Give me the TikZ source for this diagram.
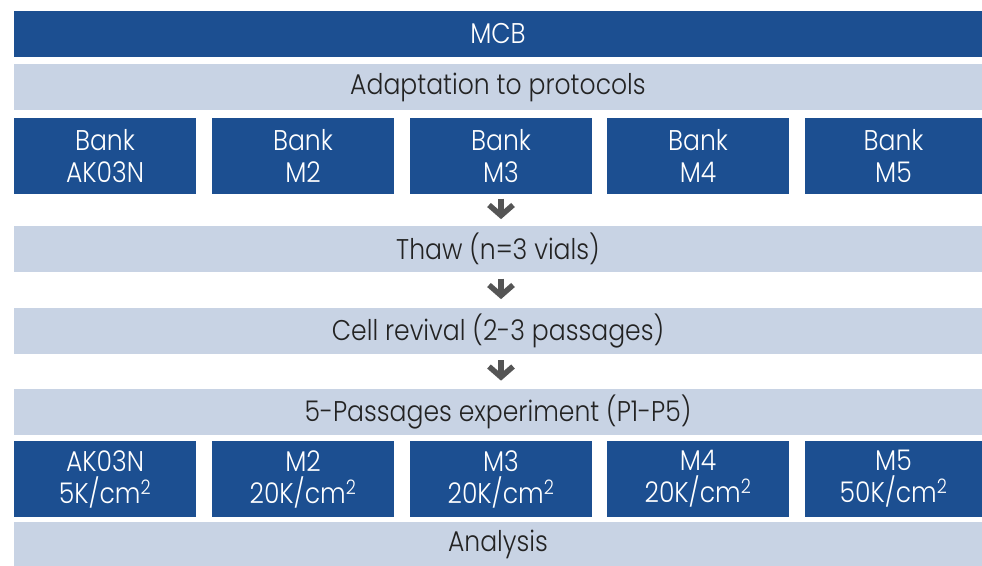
\documentclass[tikz,border=0pt]{standalone}
\usepackage{fontspec}
\setmainfont[FakeStretch=0.88,UprightFont=* Light]{Poppins}
\usetikzlibrary{calc}
\definecolor{dkblue}{RGB}{28,79,145}
\definecolor{ltblue}{RGB}{200,211,228}
\definecolor{arrgray}{RGB}{85,85,85}
\definecolor{txtdark}{RGB}{35,35,35}
\begin{document}
\begin{tikzpicture}[x=1pt,y=-1pt,
  box/.style={anchor=north west, inner sep=0pt, outer sep=0pt, minimum height=#1, align=center,
    font=\fontsize{28.5}{32}\selectfont},
  darkbox/.style={box=#1, fill=dkblue, text=white},
  lightbox/.style={box=#1, fill=ltblue, text=txtdark},
  downarrow/.style={draw=arrgray, line width=5.5pt, miter limit=10}]
\useasboundingbox (0,0) rectangle (982,565);
\node[darkbox=46pt, minimum width=968pt] (mcb) at (14,11) {MCB};
\node[lightbox=46pt, minimum width=968pt] (adapt) at (14,64) {Adaptation to protocols};
\node[darkbox=76pt, minimum width=182pt] (b1) at (14,118) {Bank\\AK03N};
\node[darkbox=76pt, minimum width=182pt] (b2) at (212,118) {Bank\\M2};
\node[darkbox=76pt, minimum width=182pt] (b3) at (410,118) {Bank\\M3};
\node[darkbox=76pt, minimum width=182pt] (b4) at (607,118) {Bank\\M4};
\node[darkbox=76pt, minimum width=177pt] (b5) at (805,118) {Bank\\M5};
\node[lightbox=46pt, minimum width=968pt] (thaw) at (14,226) {Thaw (n=3 vials)};
\node[lightbox=46pt, minimum width=968pt] (revival) at (14,308) {Cell revival (2-3 passages)};
\node[lightbox=46pt, minimum width=968pt] (exp) at (14,389) {5-Passages experiment (P1-P5)};
\node[darkbox=76pt, minimum width=182pt] (r1) at (14,441) {AK03N\\5K/cm\textsuperscript{2}};
\node[darkbox=76pt, minimum width=182pt] (r2) at (212,441) {M2\\20K/cm\textsuperscript{2}};
\node[darkbox=76pt, minimum width=182pt] (r3) at (410,441) {M3\\20K/cm\textsuperscript{2}};
\node[darkbox=76pt, minimum width=182pt] (r4) at (607,441) {M4\\20K/cm\textsuperscript{2}};
\node[darkbox=76pt, minimum width=177pt] (r5) at (805,441) {M5\\50K/cm\textsuperscript{2}};
\node[lightbox=44pt, minimum width=968pt] (analysis) at (14,522) {Analysis};
% arrows
\foreach \a/\b in {b3/thaw, thaw/revival, revival/exp}{
  \coordinate (mid) at ($(\a.south)!0.5!(\b.south |- \b.north)$);
  \coordinate (mid) at ([yshift=0.5pt]mid -| b3.south);
  \draw[downarrow] ($(mid)+(0,-11)$) -- ($(mid)+(0,4)$);
  \draw[downarrow] ($(mid)+(-12,-4.5)$) -- ($(mid)+(0,6)$) -- ($(mid)+(12,-4.5)$);
}
\end{tikzpicture}
\end{document}
